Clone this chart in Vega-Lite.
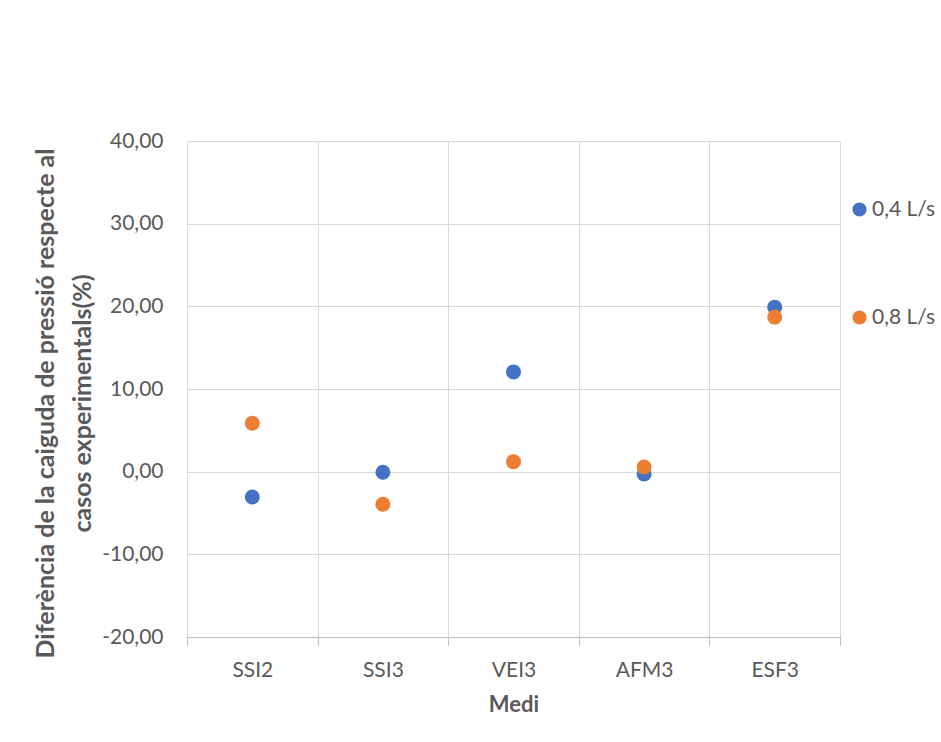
{
  "$schema": "https://vega.github.io/schema/vega-lite/v6.json",
  "autosize": {"type": "none"},
  "width": 653,
  "height": 496,
  "padding": {"left": 187, "top": 141, "right": 101, "bottom": 105},
  "background": "#ffffff",
  "config": {
    "locale": {"number": {"decimal": ",", "thousands": ".", "grouping": [3], "currency": ["", " €"], "minus": "-"}},
    "view": {"stroke": null},
    "font": "Lato"
  },
  "data": {
    "values": [
      {"Medi": "SSI2", "Cabal": "0,4 L/s", "Diferencia": -3.06},
      {"Medi": "SSI3", "Cabal": "0,4 L/s", "Diferencia": -0.07},
      {"Medi": "VEI3", "Cabal": "0,4 L/s", "Diferencia": 12.07},
      {"Medi": "AFM3", "Cabal": "0,4 L/s", "Diferencia": -0.28},
      {"Medi": "ESF3", "Cabal": "0,4 L/s", "Diferencia": 19.9},
      {"Medi": "SSI2", "Cabal": "0,8 L/s", "Diferencia": 5.86},
      {"Medi": "SSI3", "Cabal": "0,8 L/s", "Diferencia": -3.95},
      {"Medi": "VEI3", "Cabal": "0,8 L/s", "Diferencia": 1.21},
      {"Medi": "AFM3", "Cabal": "0,8 L/s", "Diferencia": 0.57},
      {"Medi": "ESF3", "Cabal": "0,8 L/s", "Diferencia": 18.7}
    ]
  },
  "mark": {"type": "point", "filled": true, "opacity": 1, "size": 225},
  "encoding": {
    "x": {
      "field": "Medi",
      "type": "nominal",
      "sort": ["SSI2", "SSI3", "VEI3", "AFM3", "ESF3"],
      "scale": {"paddingInner": 0, "paddingOuter": 0},
      "axis": {
        "title": "Medi",
        "titleFont": "Lato",
        "titleFontSize": 22,
        "titleFontWeight": "bold",
        "titleColor": "#595959",
        "titlePadding": 14,
        "labelAngle": 0,
        "labelFont": "Lato",
        "labelFontSize": 21,
        "labelColor": "#595959",
        "labelPadding": 14,
        "domainColor": "#BFBFBF",
        "domainWidth": 1,
        "ticks": true,
        "tickBand": "extent",
        "tickSize": 8,
        "tickColor": "#BFBFBF",
        "grid": true,
        "gridColor": "#D9D9D9",
        "gridWidth": 1
      }
    },
    "y": {
      "field": "Diferencia",
      "type": "quantitative",
      "scale": {"domain": [-20, 40], "nice": false, "zero": false},
      "axis": {
        "title": ["Diferència de la caiguda de pressió respecte al", "casos experimentals(%)"],
        "titleFont": "Lato",
        "titleFontSize": 25,
        "titleFontWeight": "bold",
        "titleColor": "#595959",
        "titleLineHeight": 37,
        "titlePadding": 6,
        "titleY": 262,
        "values": [-20, -10, 0, 10, 20, 30, 40],
        "format": ".2f",
        "labelFont": "Lato",
        "labelFontSize": 21,
        "labelColor": "#595959",
        "labelPadding": 24,
        "domain": false,
        "ticks": false,
        "tickSize": 0,
        "grid": true,
        "gridColor": "#D9D9D9",
        "gridWidth": 1
      }
    },
    "color": {
      "field": "Cabal",
      "type": "nominal",
      "scale": {"domain": ["0,4 L/s", "0,8 L/s"], "range": ["#4472C4", "#ED7D31"]},
      "legend": {
        "title": null,
        "orient": "none",
        "legendX": 662,
        "legendY": 58,
        "padding": 0,
        "symbolType": "circle",
        "symbolSize": 200,
        "symbolStrokeWidth": 0,
        "labelFont": "Lato",
        "labelFontSize": 21,
        "labelColor": "#595959",
        "labelOffset": 2,
        "rowPadding": 86
      }
    },
    "order": {"field": "Cabal", "sort": "ascending"}
  }
}
